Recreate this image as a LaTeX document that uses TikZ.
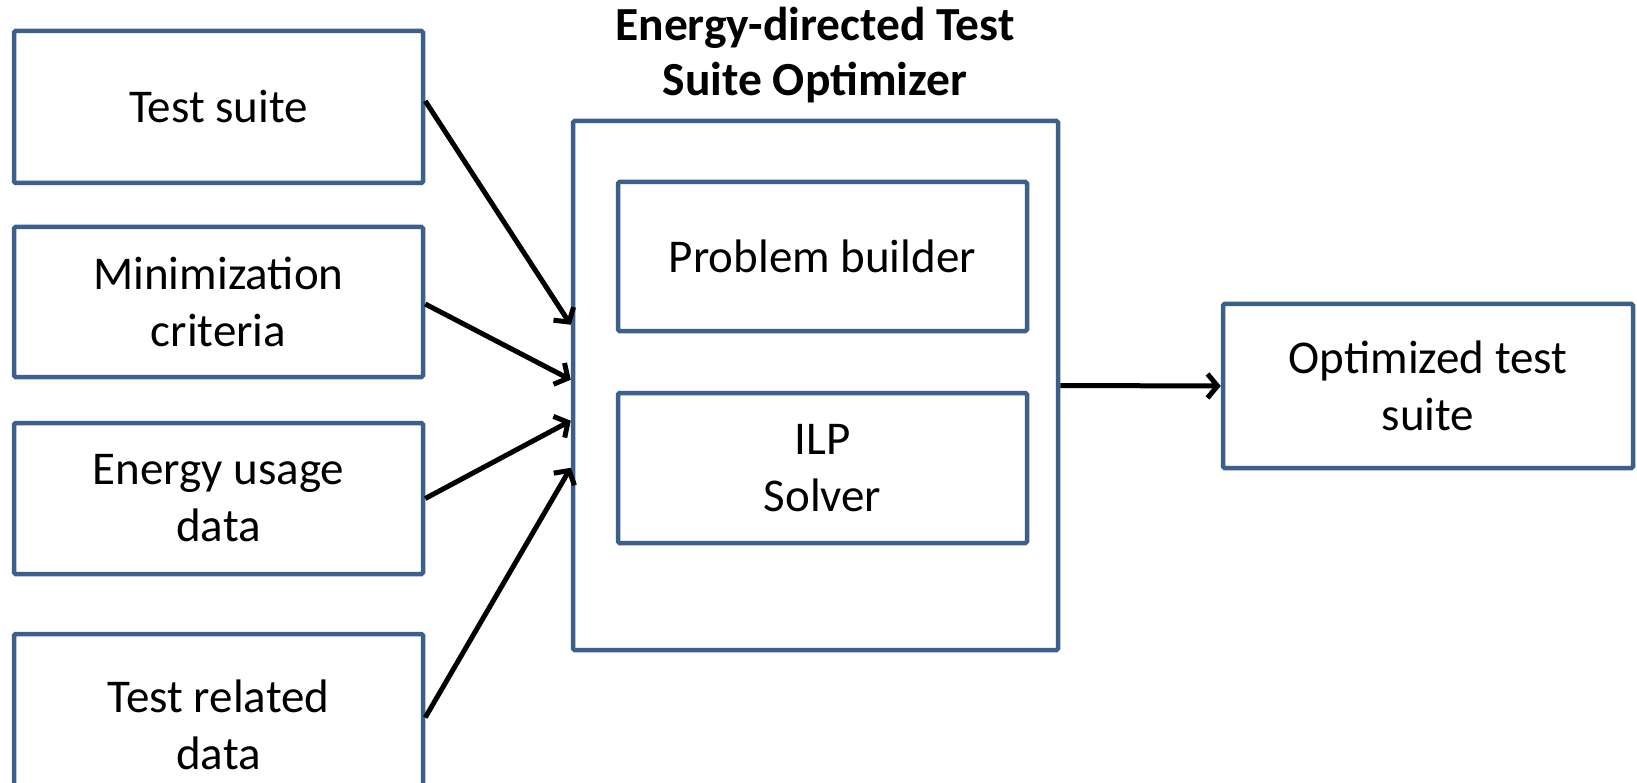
\documentclass[tikz,border=0pt]{standalone}
\usepackage{fontspec}
\setmainfont{Carlito}
\usetikzlibrary{arrows.meta,calc}
\definecolor{boxblue}{RGB}{60,95,140}
\tikzset{
  blk/.style={draw=boxblue, line width=4.5pt, rounded corners=1.5pt, fill=white, align=center,
    font=\fontsize{47}{57}\selectfont, inner sep=0pt},
  conn/.style={line width=5pt, -{Straight Barb[length=10pt,width=24pt]}},
  ttl/.style={align=center, font=\fontsize{47.5}{55}\selectfont\bfseries, inner sep=0pt}
}
\begin{document}
\begin{tikzpicture}[x=1pt,y=-1pt]
\useasboundingbox (0,0) rectangle (1637,783);
\clip (0,0) rectangle (1637,783);
\node[blk, minimum width=409pt, minimum height=152pt] (b1) at (218.5,107) {Test suite};
\node[blk, minimum width=409pt, minimum height=150pt] (b2) at (218.5,302) {Minimization\\criteria};
\node[blk, minimum width=409pt, minimum height=151pt] (b3) at (218.5,498.5) {Energy usage\\data};
\node[blk, minimum width=409pt, minimum height=181pt] (b4) at (218.5,724.5) {Test related\\data};
\node[blk, minimum width=485pt, minimum height=529pt] (main) at (815.5,385.5) {};
\node[blk, minimum width=409pt, minimum height=149pt] (pb) at (822.5,256.5) {Problem builder};
\node[blk, minimum width=409pt, minimum height=150pt] (ilp) at (822.5,468) {ILP\\Solver};
\node[blk, minimum width=410pt, minimum height=164pt] (opt) at (1428,386) {Optimized test\\suite};
\node[ttl] (title) at (815,55) {Energy-directed Test\\Suite Optimizer};
\coordinate (in1) at ($(main.north west)+(0,206)$);
\coordinate (in2) at ($(main.north west)+(0,261)$);
\coordinate (in3) at ($(main.north west)+(0,302)$);
\coordinate (in4) at ($(main.north west)+(0,349)$);
\draw[conn] ($(b1.east)+(0,-6)$) -- (in1);
\draw[conn] ($(b2.east)+(0,2)$) -- (in2);
\draw[conn] (b3.east) -- (in3);
\draw[conn] ($(b4.east)+(0,-7)$) -- (in4);
\draw[conn] (main.east) -- (opt.west);
\end{tikzpicture}
\end{document}
